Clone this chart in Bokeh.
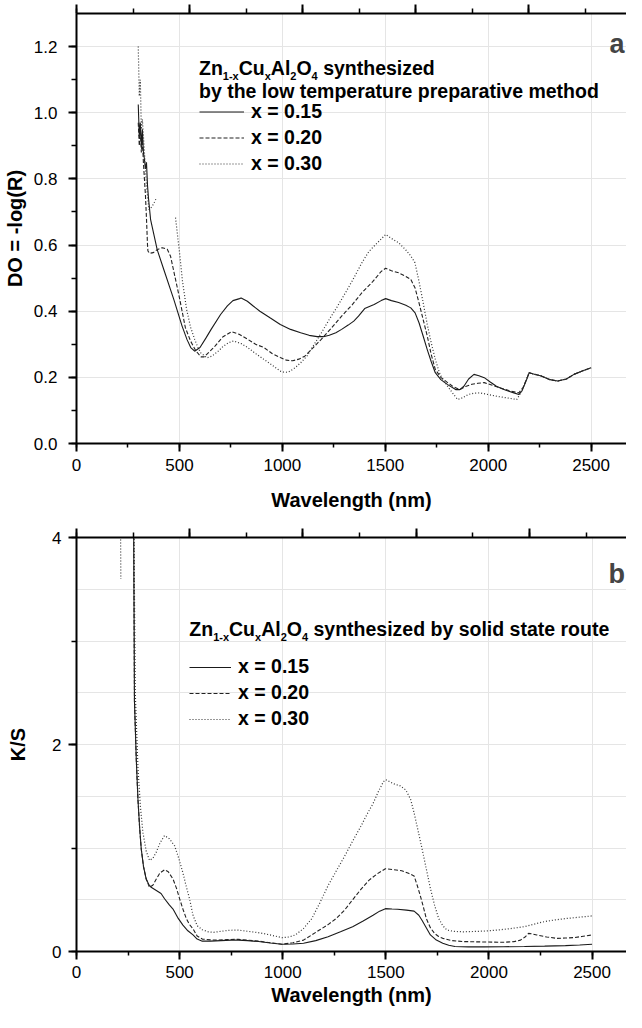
import numpy as np
from bokeh.plotting import figure
from bokeh.models import (LinearAxis, Range1d, SingleIntervalTicker, NumeralTickFormatter,
                          Label, Legend, LegendItem)
from bokeh.layouts import column
from bokeh.embed import file_html
from bokeh.resources import INLINE

NAN = float("nan")
FONT = "Liberation Sans"

# ---------------- panel a : DO = -log(R) ----------------
wl_a_015 = [300, 305, 310, 315, 320, 325, 330, 335, 340, 345, 350, 360, 392, 424, 473, 513, 537, 555, 574,
            600, 630, 654, 700, 733, 760, 792, 800, 830, 860, 891, 940, 990, 1040, 1089, 1130, 1169, 1200,
            1228, 1260, 1288, 1320, 1347, 1370, 1400, 1446, 1480, 1502, 1530, 1565, 1600, 1624, 1645, 1664,
            1684, 1704, 1723, 1743, 1770, 1803, 1842, 1862, 1882, 1905, 1931, 1955, 1981, 2010, 2040, 2070,
            2100, 2125, 2149, 2165, 2185, 2199, 2220, 2258, 2300, 2338, 2380, 2417, 2460, 2500]
do_015 = [1.025, 0.93, 0.97, 0.90, 0.95, 0.88, 0.86, 0.83, 0.85, 0.78, 0.74, 0.677, 0.586, 0.526, 0.435,
          0.355, 0.314, 0.29, 0.279, 0.29, 0.32, 0.345, 0.39, 0.416, 0.432, 0.438, 0.44, 0.43, 0.415, 0.40,
          0.38, 0.36, 0.345, 0.335, 0.327, 0.323, 0.323, 0.327, 0.335, 0.345, 0.358, 0.37, 0.385, 0.408,
          0.42, 0.432, 0.438, 0.432, 0.426, 0.418, 0.41, 0.395, 0.365, 0.325, 0.284, 0.248, 0.214, 0.193,
          0.178, 0.163, 0.163, 0.173, 0.195, 0.209, 0.205, 0.199, 0.186, 0.173, 0.165, 0.158, 0.153, 0.148,
          0.16, 0.19, 0.214, 0.21, 0.204, 0.193, 0.189, 0.195, 0.209, 0.22, 0.229]

wl_a_020 = [300, 305, 310, 315, 320, 325, 330, 335, 340, 345, 347, 355, 373, 392, 417, 441, 457, 497, 529,
            554, 580, 605, 620, 650, 674, 710, 753, 790, 832, 870, 911, 950, 990, 1020, 1050, 1080, 1109,
            1150, 1189, 1240, 1288, 1340, 1387, 1440, 1480, 1502, 1530, 1565, 1600, 1624, 1645, 1664, 1684,
            1704, 1723, 1743, 1770, 1803, 1830, 1862, 1890, 1921, 1950, 1981, 2020, 2060, 2100, 2149, 2170,
            2190, 2199, 2220, 2258, 2300, 2338, 2380, 2417, 2460, 2500]
do_020 = [0.97, 0.90, 0.95, 0.88, 0.92, 0.85, 0.80, 0.75, 0.68, 0.60, 0.582, 0.575, 0.577, 0.586, 0.592,
          0.587, 0.566, 0.45, 0.35, 0.31, 0.28, 0.262, 0.262, 0.28, 0.295, 0.322, 0.338, 0.33, 0.315, 0.30,
          0.29, 0.272, 0.26, 0.252, 0.25, 0.255, 0.264, 0.29, 0.315, 0.35, 0.385, 0.42, 0.456, 0.49, 0.52,
          0.53, 0.522, 0.516, 0.505, 0.496, 0.47, 0.425, 0.375, 0.325, 0.27, 0.224, 0.2, 0.184, 0.172,
          0.163, 0.172, 0.179, 0.182, 0.184, 0.176, 0.168, 0.16, 0.153, 0.17, 0.2, 0.214, 0.21, 0.204,
          0.193, 0.189, 0.195, 0.209, 0.22, 0.229]

wl_a_030 = [300, 305, 310, 315, 320, 330, 340, 352, 365, 375, 389, NAN,
            481, 500, 515, 535, 555, 574, 590, 604, 634, 660, 690, 713, 740, 763, 800, 832, 870, 911, 950,
            990, 1010, 1030, 1060, 1089, 1120, 1149, 1190, 1228, 1268, 1307, 1347, 1387, 1420, 1446, 1475,
            1502, 1530, 1565, 1600, 1624, 1644, 1664, 1684, 1704, 1723, 1743, 1763, 1783, 1803, 1830, 1852,
            1875, 1902, 1930, 1961, 2000, 2040, 2090, 2139, 2160, 2179, 2199, 2220, 2258, 2300, 2338, 2380,
            2417, 2460, 2500]
do_030 = [1.20, 1.05, 1.10, 0.95, 0.98, 0.88, 0.78, 0.707, 0.715, 0.725, 0.743, NAN,
          0.683, 0.58, 0.49, 0.405, 0.35, 0.315, 0.29, 0.274, 0.259, 0.265, 0.28, 0.294, 0.305, 0.31,
          0.302, 0.29, 0.272, 0.254, 0.237, 0.219, 0.215, 0.216, 0.228, 0.244, 0.265, 0.294, 0.335, 0.375,
          0.415, 0.456, 0.5, 0.547, 0.58, 0.597, 0.615, 0.632, 0.62, 0.607, 0.585, 0.567, 0.547, 0.49,
          0.426, 0.36, 0.305, 0.255, 0.214, 0.19, 0.173, 0.15, 0.133, 0.138, 0.148, 0.152, 0.153, 0.148,
          0.143, 0.138, 0.133, 0.155, 0.184, 0.214, 0.21, 0.204, 0.193, 0.189, 0.195, 0.209, 0.22, 0.229]

# ---------------- panel b : K/S ----------------
wl_b_015 = [275, 277, 281, 290, 298, 306, 314, 325, 338, 350, 362, 387, 410, 427, 450, 468, 490, 516, 540,
            565, 585, 610, 650, 700, 750, 784, 830, 883, 940, 996, 1050, 1101, 1160, 1220, 1280, 1339, 1390,
            1438, 1470, 1498, 1530, 1557, 1600, 1637, 1660, 1676, 1696, 1716, 1745, 1776, 1805, 1835, 1900,
            1974, 2070, 2172, 2270, 2371, 2440, 2500]
ks_015 = [5.0, 4.2, 2.42, 1.85, 1.47, 1.2, 0.99, 0.82, 0.70, 0.65, 0.62, 0.59, 0.56, 0.51, 0.45, 0.41,
          0.33, 0.255, 0.2, 0.16, 0.12, 0.1, 0.1, 0.105, 0.11, 0.11, 0.105, 0.096, 0.082, 0.07, 0.072,
          0.08, 0.105, 0.143, 0.19, 0.24, 0.295, 0.35, 0.39, 0.414, 0.41, 0.408, 0.40, 0.39, 0.35, 0.30,
          0.23, 0.16, 0.11, 0.08, 0.06, 0.048, 0.045, 0.045, 0.046, 0.048, 0.052, 0.057, 0.063, 0.07]

wl_b_020 = [275, 277, 281, 290, 298, 306, 314, 325, 338, 354, 370, 387, 405, 427, 445, 468, 485, 500, 516,
            532, 548, 565, 585, 610, 650, 684, 730, 784, 830, 883, 940, 996, 1050, 1101, 1141, 1180, 1220,
            1260, 1300, 1339, 1379, 1419, 1458, 1498, 1540, 1577, 1610, 1637, 1652, 1667, 1682, 1696, 1716,
            1736, 1756, 1776, 1820, 1875, 1970, 2073, 2120, 2153, 2175, 2192, 2210, 2232, 2280, 2331, 2370,
            2411, 2450, 2500]
ks_020 = [5.0, 4.2, 2.42, 1.85, 1.47, 1.2, 0.99, 0.82, 0.70, 0.62, 0.64, 0.70, 0.76, 0.79, 0.77, 0.70,
          0.61, 0.51, 0.41, 0.32, 0.26, 0.22, 0.15, 0.12, 0.112, 0.11, 0.115, 0.118, 0.11, 0.10, 0.085,
          0.07, 0.085, 0.11, 0.16, 0.21, 0.26, 0.32, 0.40, 0.50, 0.60, 0.69, 0.75, 0.80, 0.79, 0.78, 0.755,
          0.73, 0.64, 0.54, 0.43, 0.32, 0.23, 0.175, 0.145, 0.127, 0.105, 0.096, 0.092, 0.089, 0.095, 0.11,
          0.14, 0.175, 0.17, 0.16, 0.14, 0.127, 0.13, 0.134, 0.145, 0.16]

wl_b_030 = [213, 215, NAN,
            275, 278, 285, 298, 310, 322, 338, 354, 370, 387, 405, 427, 450, 476, 496, 516, 532, 548, 565,
            585, 610, 640, 665, 700, 740, 784, 830, 870, 903, 950, 996, 1030, 1061, 1100, 1141, 1180, 1220,
            1260, 1300, 1340, 1379, 1410, 1438, 1465, 1488, 1500, 1538, 1570, 1597, 1620, 1637, 1656, 1676,
            1696, 1716, 1736, 1756, 1776, 1796, 1830, 1875, 1920, 1974, 2030, 2100, 2172, 2220, 2272, 2320,
            2371, 2430, 2500]
ks_030 = [4.3, 3.6, NAN,
          5.0, 4.2, 2.5, 1.78, 1.4, 1.15, 0.97, 0.88, 0.9, 0.96, 1.05, 1.12, 1.09, 1.02, 0.9, 0.76, 0.63,
          0.51, 0.35, 0.25, 0.21, 0.19, 0.185, 0.195, 0.205, 0.207, 0.195, 0.185, 0.175, 0.155, 0.134,
          0.14, 0.16, 0.22, 0.318, 0.47, 0.637, 0.78, 0.92, 1.07, 1.21, 1.33, 1.43, 1.55, 1.64, 1.66, 1.62,
          1.6, 1.56, 1.47, 1.34, 1.17, 0.99, 0.80, 0.61, 0.45, 0.32, 0.25, 0.207, 0.195, 0.19, 0.193,
          0.197, 0.205, 0.22, 0.24, 0.265, 0.29, 0.305, 0.318, 0.33, 0.344]

series_labels = ["x = 0.15", "x = 0.20", "x = 0.30"]
x_ticks_step = 500

# ---------------- helpers ----------------
BOLD_W = {'Z': .611, 'n': .611, 'C': .722, 'u': .611, 'A': .722, 'l': .278, 'O': .778, ' ': .278,
          's': .556, 'y': .556, 't': .333, 'h': .611, 'e': .556, 'i': .278, 'z': .5, 'd': .611,
          '1': .556, '-': .333, 'x': .556, '2': .556, '4': .556}


def text_w(s, fs):
    return sum(BOLD_W.get(c, .556) for c in s) * fs


STYLES = [dict(line_dash="solid", line_color="#1a1a1a", line_width=1.1),
          dict(line_dash="4 2", line_color="#222222", line_width=1.1),
          dict(line_dash="1 2", line_color="#333333", line_width=1.2)]


def style_axis(ax, tick_out, minor_out, fs="17px"):
    ax.axis_line_width = 2
    ax.axis_line_color = "black"
    ax.major_tick_line_width = 2
    ax.major_tick_line_color = "black"
    ax.minor_tick_line_width = 1.5
    ax.minor_tick_line_color = "black"
    ax.major_tick_in = 0
    ax.minor_tick_in = 0
    ax.major_tick_out = tick_out
    ax.minor_tick_out = minor_out
    ax.major_label_text_font = FONT
    ax.major_label_text_font_size = fs
    ax.major_label_text_color = "black"
    ax.axis_label_text_font = FONT
    ax.axis_label_text_font_size = "20px"
    ax.axis_label_text_font_style = "bold"
    ax.axis_label_text_color = "black"


def make_panel(height, b_top, b_bottom, b_left, x_end, top_end, y_end, y_step, y_fmt, y_title,
               lbl_standoff_y, title_standoff_y, lbl_standoff_x, title_standoff_x):
    p = figure(width=626, height=height, x_range=Range1d(0, x_end), y_range=Range1d(0, y_end),
               output_backend="svg", toolbar_location=None,
               x_axis_location=None, y_axis_location=None,
               min_border_left=b_left, min_border_right=0, min_border_top=b_top,
               min_border_bottom=b_bottom)
    p.outline_line_color = None
    p.background_fill_color = "white"
    p.extra_x_ranges = {"top": Range1d(0, top_end)}

    xb = LinearAxis(ticker=SingleIntervalTicker(interval=x_ticks_step, num_minor_ticks=2),
                    axis_label="Wavelength (nm)")
    style_axis(xb, 8, 4)
    xb.major_label_standoff = lbl_standoff_x
    xb.axis_label_standoff = title_standoff_x
    p.add_layout(xb, "below")

    xt = LinearAxis(x_range_name="top", ticker=SingleIntervalTicker(interval=x_ticks_step, num_minor_ticks=2))
    style_axis(xt, 9, 5, fs="0px")
    xt.major_label_standoff = 0
    xt.major_label_text_alpha = 0
    p.add_layout(xt, "above")

    yl = LinearAxis(ticker=SingleIntervalTicker(interval=y_step, num_minor_ticks=2),
                    formatter=NumeralTickFormatter(format=y_fmt), axis_label=y_title)
    style_axis(yl, 8, 5)
    yl.major_label_standoff = lbl_standoff_y
    yl.axis_label_standoff = title_standoff_y
    p.add_layout(yl, "left")
    return p


def add_header(p, x, y, parts_line1, line2=None, fs=19.5, sub_fs=11, sub_drop=8, line_gap=23.3):
    off = 0.0
    for txt, is_sub in parts_line1:
        size = sub_fs if is_sub else fs
        lead = len(txt) - len(txt.lstrip(" "))
        off += text_w(" " * lead, size)
        body = txt.strip(" ")
        p.add_layout(Label(x=x, y=y, x_offset=off, y_offset=(-sub_drop if is_sub else 0), text=body,
                           text_font=FONT, text_font_style="bold", text_font_size=f"{size}px",
                           text_align="left", text_baseline="alphabetic", text_color="black"))
        off += text_w(body, size)
    if line2:
        p.add_layout(Label(x=x, y=y, y_offset=-line_gap, text=line2, text_font=FONT,
                           text_font_style="bold", text_font_size=f"{fs}px", text_align="left",
                           text_baseline="alphabetic", text_color="black"))


def add_legend(p, renderers, loc, row_h, spacing, glyph_w):
    items = [LegendItem(label=lab, renderers=[r]) for lab, r in zip(series_labels, renderers)]
    lg = Legend(items=items, location=loc, glyph_width=glyph_w, glyph_height=row_h, label_height=row_h,
                label_standoff=7, spacing=spacing, padding=0, margin=0, border_line_color=None,
                background_fill_alpha=0, label_text_font=FONT, label_text_font_style="bold",
                label_text_font_size="19.5px", label_text_color="black")
    p.add_layout(lg)


formula = [("Zn", False), ("1-x", True), ("Cu", False), ("x", True), ("Al", False), ("2", True),
           ("O", False), ("4", True)]

# ---------------- panel a ----------------
pa = make_panel(519, 13, 76, 74, 2672, 2433, 1.3, 0.2, "0.0", "DO = -log(R)",
                lbl_standoff_y=11, title_standoff_y=5, lbl_standoff_x=7, title_standoff_x=15)
ra = []
for wl, vals, st in zip([wl_a_015, wl_a_020, wl_a_030], [do_015, do_020, do_030], STYLES):
    ra.append(pa.line(np.array(wl, dtype=float), np.array(vals, dtype=float), **st))
add_header(pa, 595, 1.1367, formula + [(" synthesized", False)],
           line2="by the low temperature preparative method")
add_legend(pa, ra, (123, 268), 21, 3, 45)
pa.add_layout(Label(x=2662, y=1.2072, text="a", text_font=FONT, text_font_style="bold",
                    text_font_size="27px", text_align="right", text_baseline="alphabetic"))

# ---------------- panel b ----------------
pb = make_panel(493, 18, 61, 75, 2667, 2433 * 551 / 552, 4, 2, "0", "K/S",
                lbl_standoff_y=7, title_standoff_y=20, lbl_standoff_x=6, title_standoff_x=3)
rb = []
for wl, vals, st in zip([wl_b_015, wl_b_020, wl_b_030], [ks_015, ks_020, ks_030], STYLES):
    rb.append(pb.line(np.array(wl, dtype=float), np.array(vals, dtype=float), **st))
add_header(pb, 547, 3.114, formula + [(" synthesized by solid state route", False)])
add_legend(pb, rb, (113, 221), 20, 3, 42)
pb.add_layout(Label(x=2660, y=3.645, text="b", text_font=FONT, text_font_style="bold",
                    text_font_size="27px", text_align="right", text_baseline="alphabetic"))

layout = column(pa, pb, spacing=0)
open("out.html", "w").write(file_html(layout, INLINE))
